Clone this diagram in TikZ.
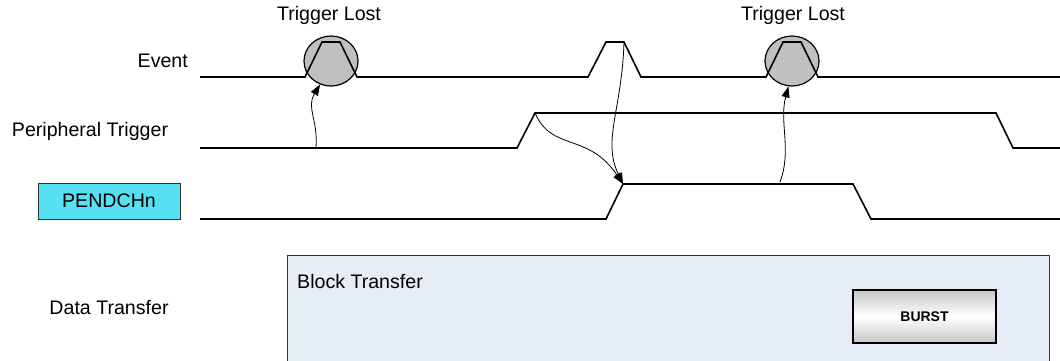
\documentclass[tikz,border=0pt]{standalone}
\usepackage{fontspec}
\setmainfont{Liberation Sans}
\usepackage{tikz}
\usetikzlibrary{arrows.meta,positioning,calc,shapes.geometric}
\definecolor{pendcyan}{HTML}{55E1F2}
\definecolor{blockfill}{HTML}{E7EDF7}
\definecolor{lostgray}{HTML}{C0C0C0}
\tikzset{
    wave/.style={line width=1.6pt,line join=miter},
    cause/.style={draw,line width=0.8pt,-{Triangle[length=11pt,width=8pt]}},
    lost/.style={ellipse,draw,line width=1.2pt,fill=lostgray,minimum width=54pt,minimum height=50pt,inner sep=0pt},
    siglabel/.style={font=\fontsize{19.6}{22}\selectfont,inner sep=0pt},
}

\begin{document}
\begin{tikzpicture}[x=1pt,y=-1pt]
    \useasboundingbox (0,0) rectangle (1060,360);

    % labels on the left
    \node[siglabel,anchor=east] (evlabel) at (188,61) {Event};
    \node[siglabel] (ptlabel) at (90,131) {Peripheral Trigger};
    \node[siglabel,draw=black!80,line width=0.8pt,fill=pendcyan,minimum width=142pt,minimum height=36pt] (pendlabel) at (109,201) {PENDCHn};
    \node[siglabel] (dtlabel) at (109,307) {Data Transfer};

    % block transfer area
    \draw[black!80,line width=0.9pt,fill=blockfill] (287,364) rectangle (1049,255);
    \node[siglabel,anchor=west] (btlabel) at (297,281) {Block Transfer};
    \node[draw,line width=1.5pt,top color=black!22,bottom color=black!22,middle color=white,
          minimum width=143pt,minimum height=53pt,font=\fontsize{14}{16}\selectfont\bfseries] (burst) at (924.5,316.5) {BURST};

    % lost triggers
    \node[lost] (lost1) at (331,61) {};
    \node[lost] (lost2) at (792,61) {};
    \node[siglabel] (lostlabel1) at (329,15) {Trigger Lost};
    \node[siglabel] (lostlabel2) at (793,15) {Trigger Lost};

    % Event
    \draw[wave] (200,77) -- (305,77) -- (322,42) -- (340,42) -- (357,77) -- (588,77) -- (606,42)
        -- (624,42) coordinate (evfall) -- (641,77) -- (766,77) -- (783,42) -- (801,42) -- (818,77) -- (1060,77);
    % Peripheral Trigger
    \draw[wave] (200,148) -- (517,148) -- (535,113) coordinate (ptrise) -- (996,113) -- (1013,148) -- (1060,148);
    \coordinate (ptlow) at (316,148);
    % PENDCHn
    \draw[wave] (200,219) -- (606,219) -- (623,184) coordinate (pendrise) -- (853,184) -- (871,219) -- (1060,219);
    \coordinate (pendhigh) at (780,182);

    \draw[cause] (ptlow) .. controls (318,118) and (306,108) .. (lost1.-115);
    \draw[cause] (ptrise) .. controls (552,152) and (588,132) .. (pendrise);
    \draw[cause] (evfall) .. controls (622,110) and (602,140) .. (pendrise);
    \draw[cause] (pendhigh) .. controls (792,150) and (779,122) .. (lost2.-98);
\end{tikzpicture}
\end{document}
